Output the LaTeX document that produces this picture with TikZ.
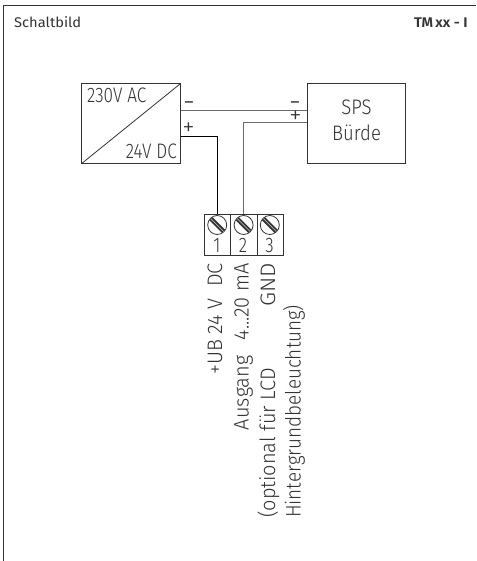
\documentclass[tikz,border=0pt]{standalone}
\usepackage{fontspec}
\setmainfont{Fira Sans Light}
\newfontfamily\condfont[FakeStretch=0.82]{Fira Sans Light}
\newfontfamily\midfont[FakeStretch=0.88]{Fira Sans Light}
\newfontfamily\rotfont[FakeStretch=0.95]{Fira Sans Light}
\newfontfamily\rotnarrow[FakeStretch=0.90]{Fira Sans Light}
\newfontfamily\rotwide[FakeStretch=1.08]{Fira Sans Light}
\newfontfamily\smallfont[FakeStretch=1.05]{Fira Sans}
\newfontfamily\smallbold[FakeStretch=1.05]{Fira Sans SemiBold}
\newfontfamily\signbold[FakeStretch=1.3]{Fira Sans SemiBold}
\usetikzlibrary{calc}
\definecolor{ink}{gray}{0.2}
\definecolor{wiregray}{gray}{0.42}
\tikzset{
  frameline/.style={draw=ink,line width=0.9pt},
  boxstyle/.style={draw=ink,line width=0.9pt,minimum width=98.5pt,minimum height=79.5pt,inner sep=0pt},
  lab/.style={text=ink,inner sep=0pt,font=\condfont\fontsize{21}{23}\selectfont},
  midlab/.style={text=ink,inner sep=0pt,font=\midfont\fontsize{21}{23}\selectfont},
  small/.style={text=ink,inner sep=0pt,font=\smallfont\fontsize{14}{16}\selectfont},
  smallb/.style={text=ink,inner sep=0pt,font=\smallbold\fontsize{14}{16}\selectfont},
  rotlab/.style={text=ink,inner sep=0pt,rotate=90,anchor=base east,font=\rotfont\fontsize{21}{23}\selectfont},
  plussign/.style={text=ink,inner sep=0pt,font=\fontsize{25}{27}\selectfont,anchor=center},
  minussign/.style={text=ink,inner sep=0pt,font=\signbold\fontsize{13}{14}\selectfont,anchor=base},
  termcell/.style={draw=ink,line width=0.8pt,minimum width=26.5pt,minimum height=41.5pt,inner sep=0pt},
  wireblack/.style={draw=black,line width=0.8pt},
  wiregrey/.style={draw=wiregray,line width=1.3pt},
  screw/.style={draw=ink,line width=0.8pt,circle,minimum size=19pt,inner sep=0pt}
}
\newcommand{\screwslot}[1]{%
  \draw[line width=4.4pt,draw=black!80] ($(#1)+(-6.3,-6.3)$) -- ($(#1)+(6.3,6.3)$);
  \draw[line width=0.7pt,draw=white!70!black] ($(#1)+(-6.3,-6.3)$) -- ($(#1)+(6.3,6.3)$);
}
\begin{document}
\begin{tikzpicture}[x=1pt,y=-1pt]
\useasboundingbox (0,0) rectangle (476,561);
\fill[white] (0,0) rectangle (476,561);
\draw[frameline] (3.5,561) -- (3.5,5.5) -- (476,5.5);
\node[small,anchor=base west] (title) at (14,27.5) {Schaltbild};
\node[smallb,anchor=base east] (model) at (468,27.5) {TM\,xx - I};

\node[boxstyle,anchor=north west] (psu) at (81.2,83.5) {};
\draw[draw=ink,line width=0.8pt] (psu.south west) -- (psu.north east);
\node[lab,anchor=base west] (ac) at (87,102.5) {230V AC};
\node[lab,anchor=base east] (dc) at (177,158.5) {24V DC};

\node[boxstyle,anchor=north west] (sps) at (306.5,83.5) {};
\node[midlab,anchor=base] (spsa) at (356.5,115) {SPS};
\node[midlab,anchor=base] (spsb) at (356.5,141) {Bürde};

\node[termcell,anchor=north west] (t1) at (203.8,213.5) {};
\node[termcell,anchor=north west] (t2) at (230.3,213.5) {};
\node[termcell,anchor=north west] (t3) at (256.8,213.5) {};
\node[screw] (s1) at (217.2,225) {};
\node[screw] (s2) at (243.6,225) {};
\node[screw] (s3) at (269.8,225) {};
\screwslot{s1}\screwslot{s2}\screwslot{s3}
\node[lab] (n1) at (217,245.5) {1};
\node[lab] (n2) at (243,245.5) {2};
\node[lab] (n3) at (269.5,245.5) {3};

\coordinate (pm) at ($(psu.east)+(0,-13.5)$);
\coordinate (sm) at ($(sps.west)+(0,-13.5)$);
\coordinate (pp) at ($(psu.east)+(0,12.5)$);
\coordinate (sp) at ($(sps.west)+(0,-0.7)$);
\draw[wiregrey] (pm) -- (sm);
\draw[wireblack] (pp) -| (t1.north);
\draw[wiregrey,line width=1pt] (sp) -| (t2.north);

\node[minussign] (a) at (189,106.5) {–};
\node[minussign] (b) at (295,106.5) {–};
\node[plussign] (c) at (188.5,129) {+};
\node[plussign] (d) at (295.5,117) {+};

\node[rotlab] (l1) at (222,263) {+UB 24 V\hspace{6pt} DC};
\node[rotlab] (l2) at (248.5,263) {Ausgang\hspace{10pt} 4...20 mA};
\node[rotlab,font=\rotwide\fontsize{21}{23}\selectfont] (l3) at (275,263) {GND};
\node[rotlab,anchor=base west] (l4) at (275,518) {(optional für LCD};
\node[rotlab,anchor=base west,font=\rotnarrow\fontsize{21}{23}\selectfont] (l5) at (300.5,518) {Hintergrundbeleuchtung)};
\end{tikzpicture}
\end{document}
